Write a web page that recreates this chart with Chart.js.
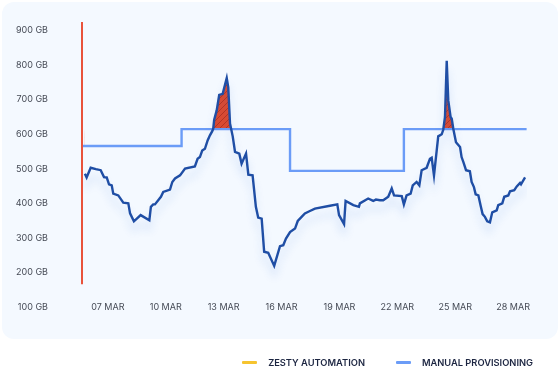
<!DOCTYPE html>
<html>
<head>
<meta charset="utf-8">
<script src="https://cdn.jsdelivr.net/npm/chart.js@4"></script>
<style>
  body { margin: 0; background: #fff; font-family: Inter, "Noto Sans", sans-serif; }
  #wrap { position: relative; width: 560px; height: 370px; }
  #card { position: absolute; left: 2px; top: 2px; width: 556px; height: 337px; background: #f4f9ff; border-radius: 12px; }
  #chart { position: absolute; left: 0; top: 0; }
  #legend { position: absolute; right: 27px; top: 357px; display: flex; align-items: center; font-size: 9.3px; font-weight: 600; color: #1c2541; }
  #legend .item { display: flex; align-items: center; margin-left: 31px; }
  #legend .sw { width: 15px; height: 3px; margin-right: 11px; border-radius: 1px; }
</style>
</head>
<body>
<div id="wrap">
  <div id="card"></div>
  <canvas id="chart" width="560" height="370"></canvas>
  <div id="legend"></div>
</div>
<script>
// usage (dark blue line), day of month vs GB
const usageDays = [5.81,5.90,6.11,6.38,6.63,6.80,6.94,7.06,7.20,7.28,
  7.54,7.80,8.06,8.15,8.35,8.70,9.15,9.23,9.35,9.44,
  9.75,9.87,10.22,10.34,10.48,10.74,11.00,11.51,11.65,11.77,
  11.89,12.03,12.17,12.29,12.41,12.46,12.51,12.64,12.77,12.95,
  13.16,13.24,13.33,13.47,13.59,13.81,13.93,14.16,14.28,14.50,
  14.67,14.79,14.97,15.10,15.31,15.62,15.92,16.09,16.23,16.44,
  16.70,16.84,17.04,17.21,17.47,17.73,18.51,18.89,18.98,19.24,
  19.32,19.72,20.01,20.06,20.49,20.75,20.89,21.10,21.27,21.53,
  21.71,21.83,22.23,22.34,22.48,22.69,22.80,23.00,23.14,23.26,
  23.52,23.69,23.78,23.90,24.04,24.12,24.30,24.38,24.47,24.56,
  24.64,24.76,24.82,24.90,25.04,25.25,25.33,25.42,25.56,25.76,
  25.85,25.97,26.06,26.20,26.33,26.42,26.54,26.66,26.80,26.92,
  27.15,27.23,27.44,27.54,27.75,27.84,28.06,28.19,28.36,28.41,28.62];
const usageGB = [486,475,503,499,496,476,475,455,452,428,
  423,402,400,371,348,366,351,390,397,397,
  419,433,440,462,472,481,501,507,529,534,
  553,558,582,597,609,616,642,669,714,717,
  763,736,631,594,549,544,515,544,483,481,
  390,359,356,260,257,219,276,279,298,317,
  327,349,361,371,378,385,393,397,366,340,
  407,395,390,400,414,407,411,409,409,419,
  443,423,421,397,423,428,452,462,452,496,
  503,529,532,481,553,594,600,613,650,813,
  698,650,645,616,577,563,534,520,496,493,
  462,447,426,423,390,369,361,348,345,374,
  380,395,400,419,423,435,438,449,459,455,475];

// manual provisioning (step line)
const manualDays = [5.66, 10.82, 16.44, 22.34, 28.70];
const manualGB = [566, 615, 494, 615, 615];

// start marker
const markerDay = 5.66;
const markerGB = [166, 925];

const xTicks = [7, 10, 13, 16, 19, 22, 25, 28];
const xLabels = ['07 MAR', '10 MAR', '13 MAR', '16 MAR', '19 MAR', '22 MAR', '25 MAR', '28 MAR'];
const yTicks = [100, 200, 300, 400, 500, 600, 700, 800, 900];

const legendItems = [
  { text: 'ZESTY AUTOMATION', color: '#f6c42f' },
  { text: 'MANUAL PROVISIONING', color: '#6b9cf7' }
];

const usage = usageDays.map((d, i) => ({ x: d, y: usageGB[i] }));
const manual = manualDays.map((d, i) => ({ x: d, y: manualGB[i] }));
const marker = markerGB.map(v => ({ x: markerDay, y: v }));

// hatch pattern for the over-provision peaks
function hatch() {
  const c = document.createElement('canvas');
  c.width = 6; c.height = 6;
  const g = c.getContext('2d');
  g.fillStyle = '#de4a2e';
  g.fillRect(0, 0, 6, 6);
  g.strokeStyle = '#b8331f';
  g.lineWidth = 1;
  g.beginPath();
  g.moveTo(0, 6); g.lineTo(6, 0);
  g.moveTo(-3, 3); g.lineTo(3, -3);
  g.moveTo(3, 9); g.lineTo(9, 3);
  g.stroke();
  return document.getElementById('chart').getContext('2d').createPattern(c, 'repeat');
}

const glow = {
  id: 'glow',
  beforeDatasetDraw(chart, args) {
    if (args.index !== 0) return;
    const ctx = chart.ctx;
    ctx.save();
    ctx.shadowColor = 'rgba(40, 100, 210, 0.18)';
    ctx.shadowBlur = 9;
    ctx.shadowOffsetY = 9;
  },
  afterDatasetDraw(chart, args) {
    if (args.index !== 0) return;
    chart.ctx.restore();
  }
};

const font = { family: 'Inter, "Noto Sans", sans-serif', size: 9 };

new Chart(document.getElementById('chart'), {
  type: 'line',
  data: {
    datasets: [
      { label: 'usage', data: usage, borderColor: '#1f4ea5', borderWidth: 2.4, pointRadius: 0, tension: 0, fill: false, order: 1 },
      { label: 'Manual provisioning', data: manual, stepped: true, borderColor: '#6b9cf7', borderWidth: 2.4, pointRadius: 0, fill: false, order: 2 },
      { label: 'over', data: usage, borderWidth: 0, pointRadius: 0, tension: 0,
        fill: { target: 1, above: hatch(), below: 'rgba(0,0,0,0)' }, order: 3 },
      { label: 'start', data: marker, borderColor: '#e9533b', borderWidth: 2, pointRadius: 0, clip: false, order: 0 }
    ]
  },
  options: {
    responsive: false,
    animation: false,
    layout: { padding: { left: 0, right: 33, top: 22, bottom: 43 } },
    plugins: { legend: { display: false }, tooltip: { enabled: false } },
    scales: {
      x: {
        type: 'linear', min: 5.66, max: 28.72,
        grid: { display: false, drawTicks: false },
        border: { display: false },
        afterBuildTicks: s => { s.ticks = xTicks.map(v => ({ value: v })); },
        afterFit: s => { s.height = 20; s.paddingLeft = 0; s.paddingRight = 0; },
        ticks: { autoSkip: false, maxRotation: 0, mirror: true, padding: -5.4, color: '#454a55', font,
          callback: v => xLabels[xTicks.indexOf(v)] }
      },
      y: {
        min: 100, max: 925,
        grid: { display: false, drawTicks: false },
        border: { display: false },
        afterBuildTicks: s => { s.ticks = yTicks.map(v => ({ value: v })); },
        afterFit: s => { s.width = 82; s.paddingTop = 0; s.paddingBottom = 0; },
        ticks: { padding: 34, color: '#454a55', font, callback: v => v + ' GB' }
      }
    }
  },
  plugins: [glow]
});

// legend
const lg = document.getElementById('legend');
legendItems.forEach(it => {
  const el = document.createElement('div');
  el.className = 'item';
  const sw = document.createElement('span');
  sw.className = 'sw';
  sw.style.background = it.color;
  const tx = document.createElement('span');
  tx.textContent = it.text;
  el.appendChild(sw); el.appendChild(tx);
  lg.appendChild(el);
});
</script>
</body>
</html>
